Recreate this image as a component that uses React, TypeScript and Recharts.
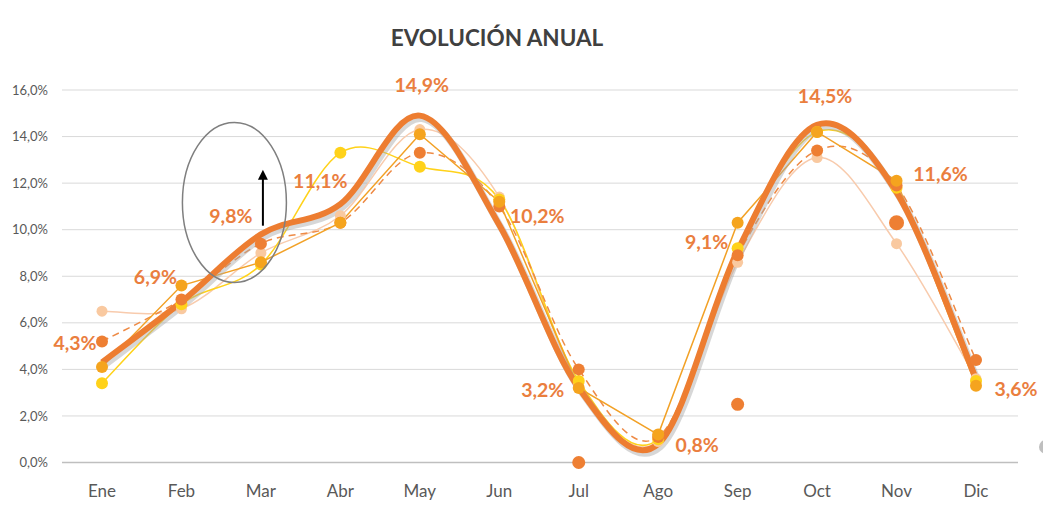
import React from 'react';
import { LineChart, Line, XAxis, YAxis, CartesianGrid, LabelList, ReferenceDot } from 'recharts';

const months = ['Ene', 'Feb', 'Mar', 'Abr', 'May', 'Jun', 'Jul', 'Ago', 'Sep', 'Oct', 'Nov', 'Dic'];
const actual = [4.3, 6.9, 9.8, 11.1, 14.9, 10.2, 3.2, 0.8, 9.1, 14.5, 11.6, 3.6];
const yellowSeries = [3.4, 6.8, 8.5, 13.3, 12.7, 11.3, 3.5, 1.0, 9.2, 14.2, 11.8, 3.5];
const amberSeries = [4.1, 7.6, 8.6, 10.3, 14.1, 11.2, 3.2, 1.2, 10.3, 14.2, 12.1, 3.3];
const dashedSeries = [5.2, 7.0, 9.4, 10.3, 13.3, 11.0, 4.0, 1.1, 8.9, 13.4, 11.9, 4.4];
const peachSeries = [6.5, 6.6, 9.0, 10.6, 14.3, 11.4, 3.4, 0.9, 8.6, 13.1, 9.4, 3.6];
const strayPoints: (number | null)[] = [null, null, null, null, null, null, 0.0, null, 2.5, null, 10.3, null];
const yTicks = [0, 2, 4, 6, 8, 10, 12, 14, 16];

// label offsets (dx, dy) relative to each point of the main series
const labelOffsets: [number, number][] = [
  [-27, -20], [-26, -25], [-30, -19], [-20, -24], [2, -31], [38, -10],
  [-36, 1], [39, 1], [-31, -9], [8, -29], [44, -19], [40, 10],
];

const data = months.map((m, i) => ({
  month: m,
  actual: actual[i],
  yellow: yellowSeries[i],
  amber: amberSeries[i],
  dashed: dashedSeries[i],
  peach: peachSeries[i],
  stray: strayPoints[i],
}));

const fmt = (v: number) => v.toFixed(1).replace('.', ',') + '%';

// Excel-like smoothed line (Catmull-Rom style Bezier, tension 1/6)
function excelCurve(context: any) {
  let pts: [number, number][] = [];
  return {
    areaStart() {},
    areaEnd() {},
    lineStart() { pts = []; },
    lineEnd() {
      const n = pts.length;
      if (n === 0) return;
      context.moveTo(pts[0][0], pts[0][1]);
      if (n === 1) return;
      const t = 1 / 6;
      for (let i = 0; i < n - 1; i++) {
        const p0 = pts[i - 1] || pts[i];
        const p1 = pts[i];
        const p2 = pts[i + 1];
        const p3 = pts[i + 2] || pts[i + 1];
        context.bezierCurveTo(
          p1[0] + (p2[0] - p0[0]) * t, p1[1] + (p2[1] - p0[1]) * t,
          p2[0] - (p3[0] - p1[0]) * t, p2[1] - (p3[1] - p1[1]) * t,
          p2[0], p2[1]
        );
      }
    },
    point(x: number, y: number) { pts.push([+x, +y]); },
  };
}

const renderLabel = (props: any) => {
  const { x, y, value, index } = props;
  if (value == null) return null;
  const [dx, dy] = labelOffsets[index] || [0, -20];
  return (
    <text
      x={x + dx}
      y={y + dy}
      textAnchor="middle"
      dominantBaseline="central"
      fill="#EA7E3E"
      fontFamily="Lato, 'Open Sans', sans-serif"
      fontWeight={700}
      fontSize={19.5}
    >
      {fmt(value)}
    </text>
  );
};

const StrayDot = (props: any) => {
  const { cx, cy, index } = props;
  if (typeof cx !== 'number' || typeof cy !== 'number' || Number.isNaN(cy)) return null;
  const r = index === 10 ? 7.5 : 6.5;
  return <circle key={`s${index}`} cx={cx} cy={cy} r={r} fill="#EE7F33" />;
};

const EllipseShape = (props: any) => (
  <ellipse cx={props.cx - 26.5} cy={props.cy} rx={52} ry={80} fill="none" stroke="#7F7F7F" strokeWidth={1.5} />
);

const ArrowShape = (props: any) => {
  const x = props.cx + 2;
  const y0 = props.cy - 4;
  const y1 = props.cy - 60;
  return (
    <g>
      <line x1={x} y1={y0} x2={x} y2={y1 + 8} stroke="#000" strokeWidth={2} />
      <polygon points={`${x - 5},${y1 + 10} ${x + 5},${y1 + 10} ${x},${y1}`} fill="#000" />
    </g>
  );
};

const EdgeShape = (props: any) => (
  <circle cx={props.cx + 70} cy={props.cy} r={7} fill="#BFBFBF" />
);

export default function App() {
  return (
    <div style={{ position: 'absolute', left: 0, top: 0, width: 1043, height: 521, background: '#fff', overflow: 'hidden' }}>
      <div
        style={{
          position: 'absolute', left: 0, top: 23, width: 994, textAlign: 'center',
          fontFamily: "Lato, 'Open Sans', sans-serif", fontWeight: 700, fontSize: 22.5, color: '#404040',
          lineHeight: '30px',
        }}
      >
        EVOLUCIÓN ANUAL
      </div>
      <LineChart width={1043} height={521} data={data} margin={{ top: 90, right: 25, bottom: 28.5, left: 0 }}>
        <CartesianGrid vertical={false} stroke="#D9D9D9" strokeWidth={1} />
        <XAxis
          dataKey="month"
          padding={{ left: 40, right: 42 }}
          axisLine={{ stroke: '#BFBFBF', strokeWidth: 1.5 }}
          tickLine={false}
          tickMargin={16}
          height={30}
          tick={{ fill: '#595959', fontSize: 17, fontFamily: "Lato, 'Open Sans', sans-serif" }}
          interval={0}
        />
        <YAxis
          domain={[0, 16]}
          ticks={yTicks}
          width={62}
          axisLine={false}
          tickLine={false}
          tickSize={6}
          tickMargin={8}
          tickFormatter={fmt}
          tick={{ fill: '#595959', fontSize: 13, fontFamily: "Lato, 'Open Sans', sans-serif" }}
        />
        <Line
          dataKey="peach" type={excelCurve as any} stroke="#F8CBAD" strokeWidth={1.5}
          dot={{ r: 5.5, fill: '#F9C9A0', stroke: 'none' }} isAnimationActive={false}
        />
        <Line
          dataKey="yellow" type={excelCurve as any} stroke="#FFD21A" strokeWidth={1.5}
          dot={{ r: 6, fill: '#FFD21A', stroke: 'none' }} isAnimationActive={false}
        />
        <Line
          dataKey="dashed" type={excelCurve as any} stroke="#EE8A45" strokeWidth={1.5} strokeDasharray="7 5"
          dot={{ r: 6, fill: '#EE7F33', stroke: 'none' }} isAnimationActive={false}
        />
        <Line
          dataKey="amber" type="linear" stroke="#F2A126" strokeWidth={1.5}
          dot={{ r: 6, fill: '#F5A41E', stroke: 'none' }} isAnimationActive={false}
        />
        <Line
          dataKey="stray" type="linear" stroke="none" strokeWidth={0}
          dot={StrayDot} isAnimationActive={false}
        />
        <Line
          dataKey="actual" type={excelCurve as any} stroke="#A6A6A6" strokeOpacity={0.45} strokeWidth={7}
          transform="translate(2,3)" dot={false} isAnimationActive={false}
        />
        <Line
          dataKey="actual" type={excelCurve as any} stroke="#ED7D31" strokeWidth={6}
          dot={false} isAnimationActive={false}
        >
          <LabelList dataKey="actual" content={renderLabel} />
        </Line>
        <ReferenceDot x="Mar" y={11.17} ifOverflow="visible" shape={EllipseShape} />
        <ReferenceDot x="Mar" y={10.0} ifOverflow="visible" shape={ArrowShape} />
        <ReferenceDot x="Dic" y={0.67} ifOverflow="visible" shape={EdgeShape} />
      </LineChart>
    </div>
  );
}
